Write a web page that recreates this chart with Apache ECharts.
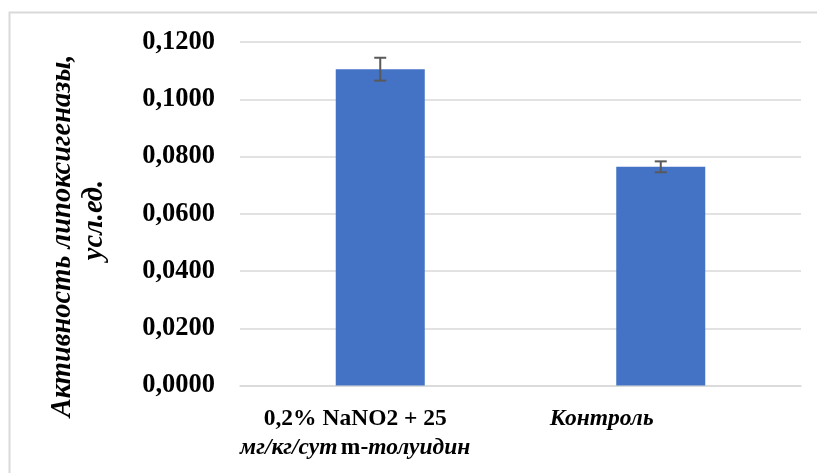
<!DOCTYPE html>
<html>
<head>
<meta charset="utf-8">
<script src="https://cdn.jsdelivr.net/npm/echarts@6/dist/echarts.min.js"></script>
<style>html,body{margin:0;padding:0;background:#fff}#c{width:817px;height:473px}</style>
</head>
<body>
<div id="c"></div>
<script>
var categories = ['0,2% NaNO2 + 25 мг/кг/сут m-толуидин', 'Контроль'];
var values = [0.1105, 0.0764];
var errors = [0.0040, 0.0019];
var yTicks = { min: 0, max: 0.12, interval: 0.02 };
var yTitleLines = ['Активность липоксигеназы,', 'усл.ед.'];

var chart = echarts.init(document.getElementById('c'));
var serif = '"Liberation Serif", "Times New Roman", serif';
chart.setOption({
  animation: false,
  grid: { left: 240, right: 16, top: 42, bottom: 87.5 },
  xAxis: {
    type: 'category',
    data: categories,
    axisTick: { show: false },
    axisLine: { lineStyle: { color: '#d9d9d9', width: 1.5 } },
    axisLabel: {
      margin: 19,
      interval: 0,
      formatter: function (v, i) {
        if (i === 0) return '{b|0,2% NaNO2 + 25}{s1| }\n{bi|мг/кг/сут} {b|m-}{bi|толуидин}{s1| }';
        return '{bi|' + v + '}{s2| }';
      },
      rich: {
        b: { fontFamily: serif, fontWeight: 'bold', fontSize: 23.5, color: '#000', lineHeight: 29 },
        bi: { fontFamily: serif, fontWeight: 'bold', fontStyle: 'italic', fontSize: 23.5, color: '#000', lineHeight: 29 },
        s1: { width: 50, fontSize: 23.5, lineHeight: 29 },
        s2: { width: 118, fontSize: 23.5, lineHeight: 29 }
      }
    }
  },
  yAxis: {
    type: 'value',
    min: yTicks.min, max: yTicks.max, interval: yTicks.interval,
    axisLine: { show: false },
    axisTick: { show: false },
    splitLine: { lineStyle: { color: '#d9d9d9', width: 1.5 } },
    axisLabel: {
      margin: 25,
      fontFamily: serif, fontWeight: 'bold', fontSize: 26.5, color: '#000',
      formatter: function (v) { return v.toFixed(4).replace('.', ','); }
    }
  },
  series: [
    {
      type: 'bar',
      data: values,
      barWidth: 89,
      itemStyle: { color: '#4472c4' }
    },
    {
      type: 'custom',
      data: values.map(function (v, i) { return [i, v - errors[i], v + errors[i]]; }),
      z: 10,
      renderItem: function (params, api) {
        var lo = api.coord([api.value(0), api.value(1)]);
        var hi = api.coord([api.value(0), api.value(2)]);
        var hw = 6;
        var st = { stroke: '#595959', lineWidth: 2 };
        return {
          type: 'group',
          children: [
            { type: 'line', shape: { x1: lo[0], y1: lo[1], x2: hi[0], y2: hi[1] }, style: st },
            { type: 'line', shape: { x1: lo[0] - hw, y1: lo[1], x2: lo[0] + hw, y2: lo[1] }, style: st },
            { type: 'line', shape: { x1: hi[0] - hw, y1: hi[1], x2: hi[0] + hw, y2: hi[1] }, style: st }
          ]
        };
      }
    }
  ],
  graphic: [
    { type: 'rect', shape: { x: 9.5, y: 12.5, width: 900, height: 600 }, style: { fill: 'none', stroke: '#d9d9d9', lineWidth: 2 }, silent: true },
    { type: 'text', x: 63, y: 236, rotation: Math.PI / 2,
      style: { text: yTitleLines[0], font: 'italic bold 28.5px ' + serif, fill: '#000', align: 'center', verticalAlign: 'middle' } },
    { type: 'text', x: 95, y: 220, rotation: Math.PI / 2,
      style: { text: yTitleLines[1], font: 'italic bold 28.5px ' + serif, fill: '#000', align: 'center', verticalAlign: 'middle' } }
  ]
});
</script>
</body>
</html>
